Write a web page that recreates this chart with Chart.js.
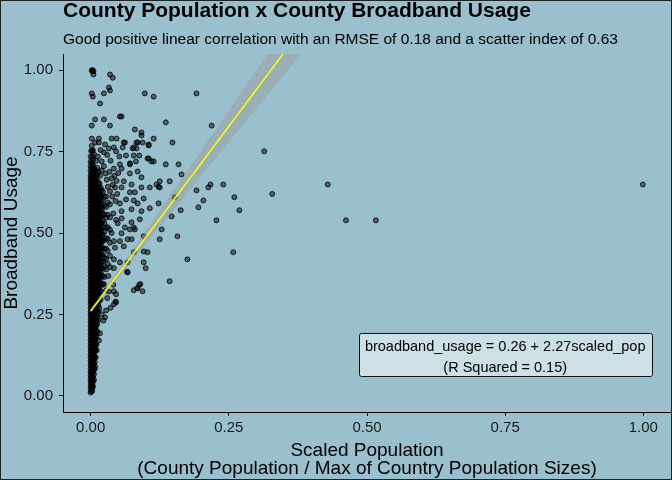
<!DOCTYPE html>
<html><head><meta charset="utf-8">
<script src="https://cdn.jsdelivr.net/npm/chart.js@4.4.1/dist/chart.umd.min.js"></script>
<style>html,body{margin:0;padding:0;background:#9AC0CD;}canvas{display:block;}</style>
</head><body>
<canvas id="c" width="672" height="480"></canvas>
<script>
// ---------- text ----------
const chartTitle = "County Population x County Broadband Usage";
const chartSubtitle = "Good positive linear correlation with an RMSE of 0.18 and a scatter index of 0.63";
const yTitle = "Broadband Usage";
const xTitleLines = ["Scaled Population", "(County Population / Max of Country Population Sizes)"];
const fitLabelLines = ["broadband_usage = 0.26 + 2.27scaled_pop", "(R Squared = 0.15)"];

// ---------- ticks ----------
const xTicks = [0, 0.25, 0.5, 0.75, 1.0];
const yTicks = [0, 0.25, 0.5, 0.75, 1.0];

// ---------- fit ----------
const fitIntercept = 0.26;
const fitSlope = 2.27;
const fitLineX = [0, 0.40];
// confidence band half-width read at these x values
const bandX = [0, 0.05, 0.10, 0.15, 0.20, 0.25, 0.30, 0.35, 0.40];
const bandHalf = [0.007, 0.012, 0.020, 0.030, 0.039, 0.049, 0.059, 0.069, 0.079];

// ---------- data: dense core of small counties (x column, y values) ----------
const coreX = [0.000, 0.0015, 0.003, 0.0045, 0.006, 0.0075, 0.009, 0.0105, 0.012, 0.014, 0.016, 0.018, 0.020, 0.022, 0.025, 0.028, 0.031, 0.035];
const coreY = [
 [0.010,0.021,0.030,0.042,0.051,0.063,0.074,0.083,0.095,0.106,0.117,0.126,0.138,0.149,0.160,0.171,0.180,0.192,0.203,0.214,0.225,0.236,0.247,0.258,0.269,0.280,0.291,0.302,0.313,0.324,0.335,0.346,0.357,0.368,0.379,0.390,0.401,0.412,0.423,0.434,0.445,0.456,0.467,0.478,0.489,0.500,0.511,0.522,0.533,0.544,0.555,0.566,0.577,0.588,0.599,0.610,0.621,0.632,0.643,0.654,0.665,0.676,0.690,0.705,0.720],
 [0.013,0.025,0.037,0.047,0.057,0.068,0.078,0.089,0.099,0.110,0.121,0.131,0.142,0.153,0.163,0.174,0.185,0.195,0.206,0.217,0.228,0.239,0.250,0.261,0.272,0.283,0.294,0.305,0.316,0.327,0.338,0.349,0.360,0.371,0.382,0.393,0.404,0.415,0.426,0.437,0.448,0.459,0.470,0.481,0.492,0.503,0.514,0.525,0.536,0.547,0.558,0.569,0.580,0.591,0.602,0.613,0.624,0.635,0.646,0.657,0.668,0.681,0.697,0.715],
 [0.015,0.027,0.036,0.048,0.059,0.070,0.079,0.091,0.101,0.113,0.122,0.134,0.144,0.155,0.166,0.176,0.188,0.197,0.209,0.219,0.231,0.241,0.252,0.263,0.274,0.286,0.296,0.307,0.318,0.329,0.341,0.351,0.362,0.373,0.384,0.396,0.406,0.418,0.428,0.439,0.451,0.461,0.472,0.484,0.494,0.506,0.516,0.527,0.539,0.549,0.561,0.571,0.583,0.593,0.604,0.616,0.627,0.638,0.649,0.661,0.672,0.684,0.698,0.712,0.735,0.752],
 [0.028,0.044,0.057,0.072,0.086,0.097,0.109,0.120,0.131,0.142,0.152,0.163,0.174,0.185,0.196,0.207,0.218,0.229,0.240,0.251,0.262,0.273,0.284,0.295,0.306,0.317,0.328,0.339,0.350,0.361,0.372,0.383,0.394,0.405,0.416,0.427,0.438,0.449,0.460,0.471,0.482,0.493,0.504,0.515,0.526,0.537,0.548,0.559,0.570,0.581,0.592,0.603,0.614,0.625,0.636,0.647,0.659,0.671,0.688,0.707,0.726],
 [0.048,0.066,0.083,0.098,0.112,0.124,0.137,0.151,0.163,0.176,0.189,0.201,0.214,0.226,0.238,0.250,0.263,0.275,0.287,0.299,0.311,0.323,0.336,0.348,0.360,0.372,0.384,0.397,0.409,0.421,0.433,0.445,0.458,0.470,0.482,0.494,0.507,0.519,0.531,0.543,0.555,0.568,0.580,0.592,0.604,0.617,0.629,0.641,0.653,0.666,0.681,0.699],
 [0.082,0.104,0.120,0.135,0.148,0.161,0.174,0.186,0.199,0.211,0.224,0.236,0.249,0.261,0.273,0.285,0.297,0.309,0.321,0.333,0.345,0.357,0.369,0.381,0.393,0.405,0.417,0.429,0.441,0.453,0.465,0.477,0.489,0.501,0.513,0.525,0.537,0.549,0.561,0.573,0.585,0.597,0.609,0.621,0.634,0.648,0.664,0.684],
 [0.118,0.140,0.158,0.174,0.190,0.204,0.218,0.231,0.245,0.258,0.272,0.285,0.298,0.311,0.325,0.338,0.351,0.364,0.377,0.391,0.404,0.417,0.430,0.444,0.457,0.470,0.483,0.497,0.510,0.523,0.536,0.550,0.563,0.576,0.589,0.603,0.616,0.629,0.643,0.658,0.674,0.692],
 [0.157,0.182,0.200,0.216,0.231,0.245,0.259,0.272,0.286,0.299,0.312,0.326,0.339,0.352,0.365,0.378,0.391,0.405,0.418,0.431,0.444,0.457,0.470,0.484,0.497,0.510,0.523,0.536,0.549,0.563,0.576,0.589,0.602,0.615,0.629,0.644,0.661,0.681],
 [0.196,0.221,0.242,0.262,0.280,0.297,0.313,0.329,0.344,0.359,0.374,0.389,0.404,0.419,0.434,0.448,0.463,0.478,0.493,0.508,0.522,0.537,0.552,0.567,0.581,0.596,0.611,0.626,0.641,0.660,0.678],
 [0.234,0.258,0.279,0.297,0.314,0.330,0.346,0.362,0.377,0.392,0.407,0.422,0.437,0.452,0.467,0.482,0.497,0.512,0.527,0.542,0.557,0.572,0.587,0.602,0.618,0.635,0.654],
 [0.268,0.292,0.313,0.333,0.351,0.368,0.385,0.402,0.419,0.435,0.452,0.468,0.485,0.501,0.518,0.534,0.551,0.567,0.584,0.600,0.617,0.634,0.652],
 [0.296,0.321,0.342,0.361,0.379,0.396,0.413,0.430,0.447,0.464,0.481,0.498,0.515,0.532,0.549,0.566,0.583,0.600,0.619,0.640],
 [0.318,0.345,0.369,0.391,0.412,0.432,0.452,0.472,0.491,0.511,0.530,0.550,0.569,0.589,0.610,0.632],
 [0.341,0.368,0.391,0.412,0.433,0.454,0.475,0.496,0.517,0.538,0.559,0.580,0.603,0.627],
 [0.365,0.396,0.424,0.451,0.478,0.504,0.531,0.557,0.585,0.612],
 [0.388,0.420,0.452,0.484,0.516,0.548,0.580,0.612],
 [0.405,0.445,0.482,0.518,0.556,0.594],
 [0.430,0.470,0.510,0.548,0.588,0.628]
];

// ---------- data: individually read counties [scaled_pop, broadband_usage] ----------
const spreadCounties = [
 [0.002,1.000],[0.003,0.998],[0.004,1.000],[0.005,0.997],[0.005,0.987],
 [0.035,0.987],[0.040,0.977],[0.033,0.947],[0.035,0.938],[0.002,0.929],[0.004,0.919],
 [0.024,0.929],[0.098,0.929],[0.017,0.898],[0.008,0.849],[0.024,0.849],[0.053,0.858],
 [0.056,0.858],[0.002,0.830],[0.035,0.830],[0.080,0.818],[0.092,0.809],[0.092,0.800],
 [0.002,0.790],[0.015,0.790],[0.038,0.790],[0.047,0.790],[0.060,0.778],[0.083,0.778],
 [0.094,0.778],[0.105,0.769],[0.076,0.760],[0.083,0.760],[0.088,0.738],[0.103,0.729],
 [0.082,0.720],[0.071,0.711],[0.085,0.689],[0.071,0.683],[0.064,0.738],
 [0.008,0.778],[0.015,0.778],[0.026,0.772],[0.042,0.763],[0.058,0.763],[0.062,0.778],
 [0.078,0.763],[0.085,0.778],[0.105,0.772],[0.004,0.754],[0.024,0.748],[0.046,0.751],
 [0.078,0.738],[0.105,0.729],[0.110,0.720],[0.013,0.735],[0.020,0.720],[0.071,0.714],
 [0.053,0.711],[0.042,0.698],[0.056,0.698],[0.092,0.671],[0.060,0.659],[0.074,0.649],
 [0.092,0.640],[0.107,0.640],[0.044,0.640],[0.056,0.640],[0.071,0.625],[0.080,0.625],
 [0.119,0.649],[0.064,0.603],[0.078,0.600],[0.096,0.606],[0.053,0.591],[0.085,0.591],
 [0.074,0.573],[0.092,0.567],[0.107,0.576],[0.056,0.567],[0.056,0.545],[0.089,0.542],
 [0.049,0.530],[0.074,0.533],[0.062,0.517],[0.078,0.517],[0.071,0.511],[0.080,0.511],
 [0.096,0.490],[0.056,0.499],[0.042,0.475],[0.053,0.475],[0.067,0.481],[0.074,0.481],
 [0.060,0.459],[0.078,0.441],[0.103,0.441],[0.096,0.443],[0.067,0.410],[0.042,0.419],
 [0.053,0.410],[0.067,0.379],[0.066,0.381],[0.042,0.392],[0.085,0.330],[0.078,0.324],
 [0.042,0.321],[0.046,0.312],[0.042,0.281],[0.046,0.287],[0.024,0.343],[0.028,0.324],
 [0.041,0.341],[0.033,0.320],[0.045,0.289],[0.026,0.241],[0.023,0.231],[0.017,0.192],
 [0.088,0.341],[0.084,0.330],
 [0.000,0.735],[0.001,0.752],[0.002,0.768],[0.006,0.742],[0.010,0.722],[0.012,0.700],
 [0.014,0.688],[0.017,0.676],[0.020,0.692],[0.024,0.705],[0.027,0.683],[0.029,0.664],
 [0.031,0.642],[0.034,0.688],[0.036,0.722],[0.038,0.668],[0.040,0.648],[0.043,0.676],
 [0.047,0.660],[0.050,0.684],[0.030,0.740],[0.018,0.755],[0.033,0.760],[0.052,0.735],
 [0.039,0.612],[0.045,0.598],[0.048,0.620],[0.041,0.560],[0.046,0.540],[0.038,0.500],
 [0.044,0.455],[0.035,0.395],[0.032,0.368],[0.030,0.300],[0.036,0.270],[0.028,0.262],
 [0.020,0.250],[0.015,0.170],[0.011,0.140],[0.008,0.090],
 [0.114,0.919],[0.1915,0.929],[0.136,0.840],[0.219,0.830],[0.114,0.790],[0.148,0.778],
 [0.314,0.751],[0.114,0.720],[0.136,0.711],[0.159,0.711],[0.1645,0.680],[0.125,0.659],
 [0.143,0.659],[0.217,0.649],[0.240,0.649],[0.429,0.649],[0.125,0.640],[0.123,0.642],
 [0.213,0.640],[0.1915,0.631],[0.3285,0.620],[0.152,0.610],[0.204,0.600],[0.260,0.610],
 [0.123,0.591],[0.195,0.579],[0.163,0.570],[0.269,0.570],[0.1465,0.551],[0.2276,0.539],
 [0.462,0.539],[0.516,0.539],[0.999,0.649],[0.1285,0.511],[0.157,0.490],[0.125,0.481],
 [0.258,0.441],[0.175,0.419],[0.096,0.410],[0.0996,0.392],[0.090,0.343],[0.143,0.352],
 [0.094,0.321]
];

// ---------- build tables for the library ----------
const countyData = [];
coreX.forEach((x, i) => coreY[i].forEach(y => countyData.push({x: x, y: y})));
spreadCounties.forEach(p => countyData.push({x: p[0], y: p[1]}));
const fitLine = fitLineX.map(x => ({x: x, y: fitIntercept + fitSlope * x}));
const bandLow = bandX.map((x, i) => ({x: x, y: fitIntercept + fitSlope * x - bandHalf[i]}));
const bandHigh = bandX.map((x, i) => ({x: x, y: fitIntercept + fitSlope * x + bandHalf[i]}));

const FONT = '"Liberation Sans", Arial, sans-serif';
const BG = '#9AC0CD';

const decor = {
  id: 'decor',
  beforeDraw(chart) {
    const ctx = chart.ctx;
    ctx.save();
    ctx.fillStyle = BG;
    ctx.fillRect(0, 0, chart.width, chart.height);
    ctx.restore();
  },
  afterDraw(chart) {
    const ctx = chart.ctx;
    const xs = chart.scales.x, ys = chart.scales.y;
    ctx.save();
    ctx.fillStyle = '#000';
    ctx.textAlign = 'left';
    ctx.textBaseline = 'alphabetic';
    ctx.font = 'bold 21px ' + FONT;
    ctx.fillText(chartTitle, 63, 17);
    ctx.font = '15.5px ' + FONT;
    ctx.fillText(chartSubtitle, 63, 44);

    // axis titles
    ctx.font = '19px ' + FONT;
    ctx.textAlign = 'center';
    const cx = (63 + 671) / 2;
    ctx.fillText(xTitleLines[0], cx, 456);
    ctx.fillText(xTitleLines[1], cx, 474);
    ctx.save();
    ctx.translate(17, (54 + 412) / 2);
    ctx.rotate(-Math.PI / 2);
    ctx.fillText(yTitle, 0, 0);
    ctx.restore();

    // fit label box
    ctx.font = '14.5px ' + FONT;
    const bx = xs.getPixelForValue(0.75), by = ys.getPixelForValue(0.127);
    const w = Math.max(...fitLabelLines.map(t => ctx.measureText(t).width)) + 12;
    const h = 43;
    const x0 = Math.round(bx - w / 2) + 0.5, y0 = Math.round(by - h / 2) + 0.5;
    ctx.beginPath();
    ctx.roundRect(x0, y0, Math.round(w), h, 2);
    ctx.fillStyle = 'rgba(255,255,255,0.5)';
    ctx.fill();
    ctx.strokeStyle = '#111';
    ctx.lineWidth = 1;
    ctx.stroke();
    ctx.fillStyle = '#000';
    ctx.fillText(fitLabelLines[0], bx, y0 + 17);
    ctx.fillText(fitLabelLines[1], bx, y0 + 38);

    // outer border
    ctx.strokeStyle = '#222';
    ctx.lineWidth = 1;
    ctx.strokeRect(0.5, 0.5, chart.width - 1, chart.height - 1);
    ctx.restore();
  }
};

new Chart(document.getElementById('c'), {
  type: 'scatter',
  data: {
    datasets: [
      {type: 'line', data: fitLine, borderColor: '#FFFF00', borderWidth: 1.5, pointRadius: 0, fill: false, order: 0},
      {type: 'line', data: bandLow, borderWidth: 0, borderColor: 'rgba(0,0,0,0)', pointRadius: 0, fill: false, order: 1},
      {type: 'line', data: bandHigh, borderWidth: 0, borderColor: 'rgba(0,0,0,0)', pointRadius: 0, fill: '-1', backgroundColor: 'rgba(153,153,153,0.45)', order: 1},
      {data: countyData, pointRadius: 2.5, pointBorderWidth: 1, backgroundColor: 'rgba(0,0,0,0.5)', borderColor: 'rgba(0,0,0,0.75)', order: 2}
    ]
  },
  options: {
    responsive: false,
    devicePixelRatio: 1,
    animation: false,
    layout: {autoPadding: false, padding: {top: 54, left: 0, right: 1, bottom: 0}},
    plugins: {legend: {display: false}, tooltip: {enabled: false}, title: {display: false}},
    scales: {
      x: {
        type: 'linear', min: -0.05, max: 1.05,
        afterBuildTicks: s => { s.ticks = xTicks.map(v => ({value: v})); },
        afterFit: s => { s.height = 68; s.paddingLeft = 0; s.paddingRight = 0; },
        grid: {drawOnChartArea: false, drawTicks: true, tickLength: 4, tickColor: '#000', tickWidth: 1},
        border: {display: true, color: '#000', width: 1},
        ticks: {callback: v => Number(v).toFixed(2), font: {family: FONT, size: 15}, color: '#1a1a1a', padding: 3, maxRotation: 0, autoSkip: false}
      },
      y: {
        type: 'linear', min: -0.05, max: 1.05,
        afterBuildTicks: s => { s.ticks = yTicks.map(v => ({value: v})); },
        afterFit: s => { s.width = 63; s.paddingTop = 0; s.paddingBottom = 0; },
        grid: {drawOnChartArea: false, drawTicks: true, tickLength: 4, tickColor: '#000', tickWidth: 1},
        border: {display: true, color: '#000', width: 1},
        ticks: {callback: v => Number(v).toFixed(2), font: {family: FONT, size: 15}, color: '#1a1a1a', padding: 6, autoSkip: false}
      }
    }
  },
  plugins: [decor]
});
</script>
</body></html>
